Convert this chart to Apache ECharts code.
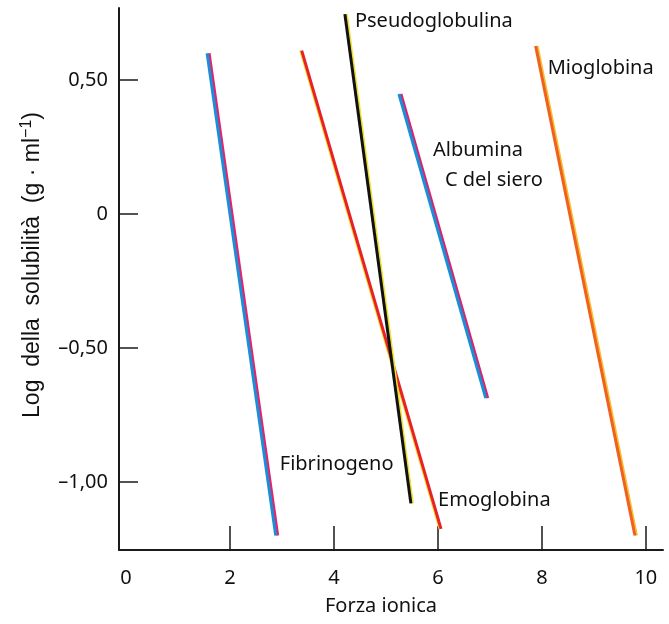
<!DOCTYPE html>
<html><head><meta charset="utf-8">
<script src="https://cdn.jsdelivr.net/npm/echarts@6/dist/echarts.min.js"></script>
<style>html,body{margin:0;padding:0;background:#fff}#c{width:669px;height:624px}</style>
</head><body><div id="c"></div>
<script>
// Data: [ionic strength, log solubility] start/end of each line
const fibrinogeno = [[1.56, 0.60], [2.88, -1.20]];
const emoglobina = [[3.38, 0.61], [6.06, -1.175]];
const pseudoglobulina = [[4.21, 0.746], [5.48, -1.08]];
const albumina = [[5.25, 0.448], [6.92, -0.687]];
const mioglobina = [[7.88, 0.627], [9.79, -1.20]];
const xTicks = [0, 2, 4, 6, 8, 10];
const yTicks = [0.5, 0, -0.5, -1.0];
const yTickText = {'0.5': '0,50', '0': '0', '-0.5': '–0,50', '-1': '–1,00'};

const FONT = 'Noto Sans';
const labelBase = {show: true, position: 'right', distance: 0, color: '#111', fontFamily: FONT, fontSize: 20, align: 'left', verticalAlign: 'middle', formatter: '{a}'};

function mk(name, pts, color, shadow, sx, labelIdx, labelOpt) {
  return {
    type: 'line', name: name,
    symbol: 'circle', symbolSize: 0.1,
    itemStyle: {color: 'rgba(0,0,0,0)'},
    lineStyle: {color: color, width: 3, shadowColor: shadow, shadowBlur: 0, shadowOffsetX: sx, shadowOffsetY: 0},
    data: pts.map((p, i) => i === labelIdx ? {value: p, label: Object.assign({}, labelBase, labelOpt)} : {value: p, label: {show: false}}),
    silent: true, animation: false, z: 3
  };
}

const chart = echarts.init(document.getElementById('c'));
chart.setOption({
  backgroundColor: '#fff',
  animation: false,
  grid: {left: 119, right: 6, top: 8, bottom: 74},
  xAxis: {
    type: 'value', min: -0.135, max: 10.33,
    name: 'Forza ionica', nameLocation: 'middle', nameGap: 46,
    nameTextStyle: {color: '#111', fontFamily: FONT, fontSize: 20, padding: [0, 20, 0, 0]},
    axisLine: {show: true, onZero: false, lineStyle: {color: '#1a1a1a', width: 2}},
    axisTick: {show: true, inside: true, length: 24, customValues: xTicks.filter(v => v > 0), lineStyle: {color: '#1a1a1a', width: 1.5}},
    axisLabel: {customValues: xTicks, color: '#111', fontFamily: FONT, fontSize: 20, margin: 18, showMinLabel: true, showMaxLabel: true},
    splitLine: {show: false}
  },
  yAxis: {
    type: 'value', min: -1.254, max: 0.769,
    name: 'Log  della  solubilità  (g · ml{s|−1})', nameLocation: 'middle', nameGap: 72, nameRotate: 90,
    nameTextStyle: {color: '#111', fontFamily: 'Liberation Sans', fontSize: 23, padding: [0, 0, 0, 28],
      rich: {s: {fontFamily: 'Liberation Sans', fontSize: 16, color: '#111', padding: [0, 0, 12, 0]}}},
    axisLine: {show: true, onZero: false, lineStyle: {color: '#1a1a1a', width: 2}},
    axisTick: {show: true, inside: true, length: 19, customValues: yTicks, lineStyle: {color: '#1a1a1a', width: 1.5}},
    axisLabel: {customValues: yTicks, color: '#111', fontFamily: FONT, fontSize: 20, margin: 11,
      formatter: v => yTickText[String(Math.round(v * 100) / 100)] ?? String(v)},
    splitLine: {show: false}
  },
  series: [
    mk('Fibrinogeno', fibrinogeno, '#1b8fd6', '#e2246e', 2, 1, {offset: [4, -71]}),
    mk('Emoglobina', emoglobina, '#e8202a', '#f3dc2a', -1, 1, {offset: [-3, -29]}),
    mk('Pseudoglobulina', pseudoglobulina, '#111111', '#f0e030', 1.5, 0, {offset: [10, 7]}),
    mk('Albumina', albumina, '#1b8fd6', '#d82470', 2, 0, {
      offset: [34, 71],
      formatter: '{a|Albumina}\n{b|C del siero}',
      rich: {a: {fontFamily: FONT, fontSize: 20, color: '#111', lineHeight: 30}, b: {fontFamily: FONT, fontSize: 20, color: '#111', lineHeight: 30, padding: [0, 0, 0, 12]}}
    }),
    mk('Mioglobina', mioglobina, '#f0601e', '#f5c030', 1.5, 0, {offset: [12, 22]})
  ]
});
</script>
</body></html>
